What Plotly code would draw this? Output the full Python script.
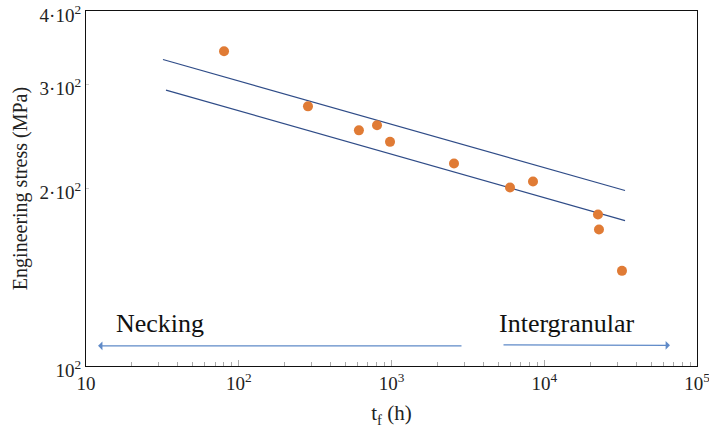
import numpy as np
import plotly.graph_objects as go

# data points
time_h = [80.1, 284, 612, 804, 978, 2566, 5968, 8442, 22480, 22820, 32280]
stress_mpa = [342, 275.7, 251, 256, 240, 220.6, 200.8, 205.5, 180.7, 170.4, 145]

# two trend lines
upper_x = [31.9, 33790]
upper_y = [331, 198.5]
lower_x = [33.4, 33790]
lower_y = [293.7, 176.4]

# region arrows (tail -> head)
necking_arrow_x = [2938, 12]
necking_arrow_y = [108.2, 108.2]
inter_arrow_x = [5290, 66530]
inter_arrow_y = [108.6, 108.4]
region_labels = ["Necking", "Intergranular"]
region_label_x = [30.5, 14090]
region_label_y = [118, 118]

xtick_vals = [10, 100, 1000, 10000, 100000]
xtick_text = ["10", "10<sup>2</sup>", "10<sup>3</sup>", "10<sup>4</sup>", "10<sup>5</sup>"]
ytick_vals = [100, 200, 300, 400]
ytick_text = ["10<sup>2</sup>", "2·10<sup>2</sup>", "3·10<sup>2</sup>", "4·10<sup>2</sup>"]

FONT = "Liberation Serif, Times New Roman, serif"
LINE_C = "#2F4C88"
DOT_C = "#E07B35"
ARROW_C = "#5F8AC8"

fig = go.Figure()
fig.add_trace(go.Scatter(x=upper_x, y=upper_y, mode="lines",
                         line=dict(color=LINE_C, width=1.2), showlegend=False))
fig.add_trace(go.Scatter(x=lower_x, y=lower_y, mode="lines",
                         line=dict(color=LINE_C, width=1.2), showlegend=False))
fig.add_trace(go.Scatter(x=time_h, y=stress_mpa, mode="markers",
                         marker=dict(color=DOT_C, size=10), showlegend=False))

for ax_x, ax_y in [(necking_arrow_x, necking_arrow_y), (inter_arrow_x, inter_arrow_y)]:
    fig.add_annotation(x=np.log10(ax_x[1]), y=np.log10(ax_y[1]),
                       ax=np.log10(ax_x[0]), ay=np.log10(ax_y[0]),
                       xref="x", yref="y", axref="x", ayref="y",
                       showarrow=True, arrowhead=1, arrowsize=1.2, arrowwidth=1.2,
                       arrowcolor=ARROW_C, text="")

for lab, lx, ly in zip(region_labels, region_label_x, region_label_y):
    fig.add_annotation(x=np.log10(lx), y=np.log10(ly), xref="x", yref="y",
                       text=lab, showarrow=False,
                       font=dict(family=FONT, size=26, color="#111"))

minor_x = [m * 10 ** d for d in range(1, 5) for m in range(2, 10)]

fig.update_xaxes(type="log", range=[1, 5.0001], tickvals=xtick_vals, ticktext=xtick_text,
                 showgrid=False, zeroline=False, showline=True, mirror=True,
                 linecolor="#111", linewidth=1.3, automargin=False,
                 ticks="inside", ticklen=6, tickcolor="#aaa",
                 ticklabeloverflow="allow",
                 minor=dict(tickvals=minor_x, ticks="inside", ticklen=4, tickcolor="#aaa"),
                 tickfont=dict(family=FONT, size=19, color="#222"),
                 title=dict(text="t<sub>f</sub> (h)", font=dict(family=FONT, size=21, color="#222"),
                            standoff=12))
fig.update_yaxes(type="log", range=[2, np.log10(400) + 0.0001], tickvals=ytick_vals, ticktext=ytick_text,
                 showgrid=False, zeroline=False, showline=True, mirror=True,
                 linecolor="#111", linewidth=1.3, automargin=False,
                 ticks="inside", ticklen=3, tickcolor="#ccc",
                 ticklabeloverflow="allow", ticklabelshift=4,
                 tickfont=dict(family=FONT, size=19, color="#222"),
                 title=dict(text="Engineering stress (MPa)", font=dict(family=FONT, size=20, color="#222"),
                            standoff=6))

fig.update_layout(width=709, height=434, margin=dict(l=86, r=12, t=11, b=68),
                  plot_bgcolor="white", paper_bgcolor="white")

fig.write_html("out.html")
